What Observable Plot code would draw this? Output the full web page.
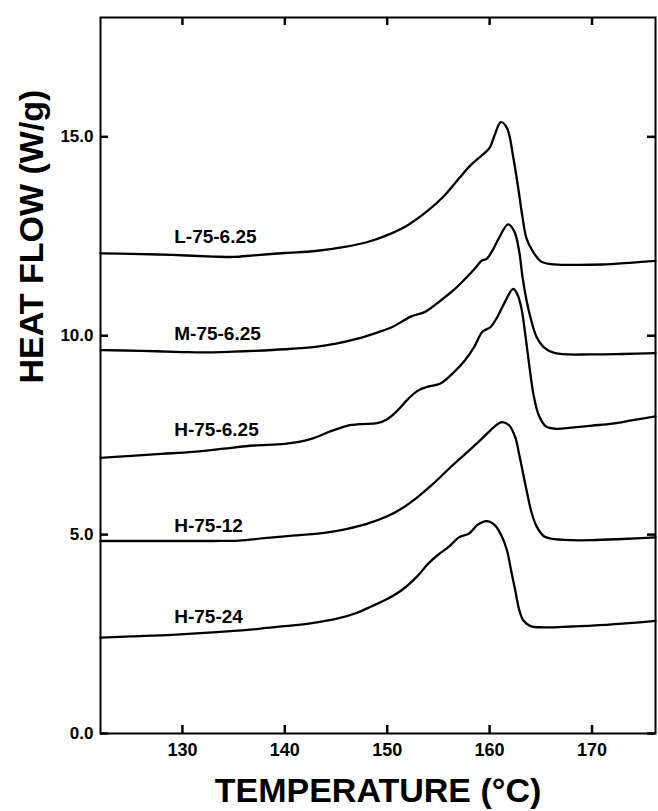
<!DOCTYPE html>
<html>
<head>
<meta charset="utf-8">
<script src="https://cdn.jsdelivr.net/npm/d3@7"></script>
<script src="https://cdn.jsdelivr.net/npm/@observablehq/plot@0.6"></script>
<style>
  html, body { margin: 0; padding: 0; background: #fff; }
  #chart { width: 658px; height: 811px; }
</style>
</head>
<body>
<div id="chart"></div>
<script>
// Sample names (curve labels)
const samples = ["L-75-6.25", "M-75-6.25", "H-75-6.25", "H-75-12", "H-75-24"];

// Heat flow traces: [temperature °C, heat flow W/g]
const L_75_625 = [[122,12.07],[125,12.06],[129,12.03],[133,11.99],[135,11.98],[137,12.02],[140,12.08],[143,12.13],[146,12.24],[148,12.35],[150,12.53],[152,12.78],[154,13.15],[155.5,13.5],[157,13.95],[158.2,14.3],[159.5,14.59],[160,14.72],[160.5,15.05],[161.1,15.37],[161.7,15.22],[162.3,14.5],[162.8,13.7],[163.2,13.0],[163.6,12.45],[164.2,12.13],[165,11.87],[166,11.8],[168,11.78],[171,11.79],[174,11.84],[176.2,11.88]];
const M_75_625 = [[122,9.64],[126,9.62],[130,9.59],[132,9.58],[135,9.6],[137,9.62],[140,9.66],[143,9.72],[145,9.8],[147,9.92],[149,10.08],[150.5,10.22],[152.3,10.48],[153.7,10.6],[155.2,10.88],[156.5,11.15],[157.5,11.4],[158.5,11.67],[159.2,11.88],[159.7,11.93],[160.3,12.15],[160.9,12.45],[161.8,12.8],[162.4,12.63],[162.9,12.1],[163.2,11.5],[163.6,10.9],[164,10.45],[164.6,9.96],[165.3,9.71],[166.4,9.56],[170,9.53],[173,9.54],[176.2,9.56]];
const H_75_625 = [[122,6.93],[125,6.98],[128,7.03],[131,7.08],[134,7.16],[137,7.24],[140,7.28],[142.5,7.4],[144.5,7.6],[146,7.73],[147.5,7.78],[149,7.8],[150,7.9],[151,8.12],[152,8.4],[153,8.62],[154,8.72],[155.2,8.8],[156.5,9.08],[157.5,9.35],[158.5,9.72],[159.3,10.1],[160.1,10.22],[160.7,10.45],[161.5,10.85],[162.3,11.18],[162.7,11.05],[163.1,10.7],[163.5,10.0],[163.9,9.2],[164.3,8.5],[164.8,8.0],[165.5,7.72],[166.5,7.66],[168,7.69],[170,7.74],[172,7.79],[174,7.88],[176.2,7.97]];
const H_75_12 = [[122,4.84],[126,4.84],[130,4.84],[133,4.84],[135.5,4.85],[138,4.91],[141,4.98],[144,5.05],[146,5.14],[148,5.27],[150,5.46],[151.5,5.67],[153,5.95],[154.5,6.28],[156,6.65],[157.5,7.0],[158.7,7.28],[159.6,7.5],[160.5,7.72],[161.2,7.83],[161.9,7.75],[162.5,7.45],[162.9,7.0],[163.3,6.5],[163.7,6.0],[164.1,5.55],[164.6,5.2],[165.3,4.96],[166,4.9],[168,4.86],[170,4.86],[173,4.89],[176.2,4.93]];
const H_75_24 = [[122,2.41],[125,2.44],[129,2.48],[133,2.54],[136.6,2.61],[140,2.7],[142.5,2.77],[145,2.88],[147,3.03],[148.5,3.2],[150,3.38],[151.5,3.62],[153,3.97],[154,4.27],[155,4.5],[156,4.69],[157,4.93],[158,5.03],[158.8,5.24],[159.7,5.34],[160.5,5.24],[161.2,4.95],[161.7,4.6],[162.1,4.1],[162.5,3.6],[162.9,3.1],[163.3,2.84],[164,2.7],[165.3,2.67],[168,2.69],[170,2.71],[173,2.76],[176.2,2.83]];

// Label anchor points (temperature, heat flow) for each sample name
const labelT = [129.2, 129.2, 129.2, 129.2, 129.2];
const labelQ = [12.33, 9.9, 7.47, 5.06, 2.78];

// Axis ticks
const xTicks = [130, 140, 150, 160, 170];
const yTicks = [0, 5, 10, 15];

const traces = [L_75_625, M_75_625, H_75_625, H_75_12, H_75_24];
const rows = traces.flatMap((tr, i) => tr.map(([t, q]) => ({sample: samples[i], t, q})));
const labels = samples.map((s, i) => ({s, t: labelT[i], q: labelQ[i]}));

const font = "'Liberation Sans', Arial, Helvetica, sans-serif";

const W = 658, H = 811, mL = 100, mR = 3, mT = 17, mB = 78;
const innerW = W - mL - mR, innerH = H - mT - mB;
const tickLen = 8;
const tickStyle = {stroke: "#000", strokeWidth: 2.5};

const chart = Plot.plot({
  width: W,
  height: H,
  marginLeft: mL,
  marginRight: mR,
  marginTop: mT,
  marginBottom: mB,
  style: {fontFamily: font, fontWeight: "bold", color: "#000", background: "#fff"},
  x: {domain: [122, 176.2]},
  y: {domain: [0, 18]},
  marks: [
    Plot.frame({stroke: "#000", strokeWidth: 2}),
    // inward ticks on all four sides
    Plot.tickX(xTicks, {x: d => d, insetTop: innerH - tickLen, ...tickStyle}),
    Plot.tickX(xTicks, {x: d => d, insetBottom: innerH - tickLen, ...tickStyle}),
    Plot.tickY(yTicks, {y: d => d, insetRight: innerW - tickLen, ...tickStyle}),
    Plot.tickY(yTicks, {y: d => d, insetLeft: innerW - tickLen, ...tickStyle}),
    // tick labels
    Plot.axisX(xTicks, {anchor: "bottom", tickSize: 0, tickPadding: 10, fontSize: 18, fontWeight: "bold", label: null, tickFormat: d3.format("d")}),
    Plot.axisY(yTicks, {anchor: "left", tickSize: 0, tickPadding: 7, fontSize: 17, fontWeight: "bold", label: null, tickFormat: d3.format(".1f")}),
    Plot.line(rows, {x: "t", y: "q", z: "sample", stroke: "#000", strokeWidth: 2.3, curve: "catmull-rom"}),
    Plot.text(labels, {x: "t", y: "q", text: "s", textAnchor: "start", lineAnchor: "bottom", fontSize: 19, fontWeight: "bold", fill: "#000"}),
    Plot.text(["TEMPERATURE (°C)"], {frameAnchor: "bottom", dy: 58, lineAnchor: "middle", fontSize: 34, fontWeight: "bold", fill: "#000"}),
    Plot.text(["HEAT FLOW (W/g)"], {frameAnchor: "left", dx: -68, dy: 8, rotate: -90, lineAnchor: "middle", fontSize: 34, fontWeight: "bold", fill: "#000"})
  ]
});
document.getElementById("chart").append(chart);
</script>
</body>
</html>
